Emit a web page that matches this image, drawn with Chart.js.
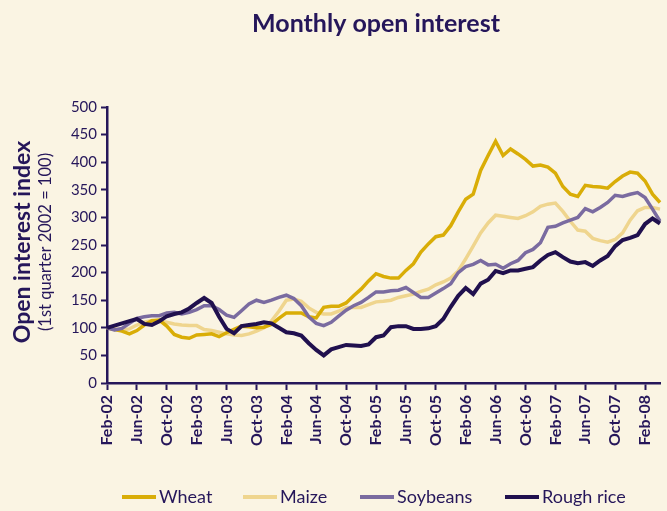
<!DOCTYPE html>
<html>
<head>
<meta charset="utf-8">
<script src="https://cdn.jsdelivr.net/npm/chart.js@4"></script>
<style>
	html, body { margin: 0; padding: 0; background: #FAF4E3; }
	canvas { display: block; }
</style>
</head>
<body>
<canvas id="oiChart" width="667" height="511"></canvas>
<script>
// month categories, Feb-02 .. Apr-08
var months = [
	'Feb-02','Mar-02','Apr-02','May-02','Jun-02','Jul-02','Aug-02','Sep-02','Oct-02','Nov-02','Dec-02',
	'Jan-03','Feb-03','Mar-03','Apr-03','May-03','Jun-03','Jul-03','Aug-03','Sep-03','Oct-03','Nov-03','Dec-03',
	'Jan-04','Feb-04','Mar-04','Apr-04','May-04','Jun-04','Jul-04','Aug-04','Sep-04','Oct-04','Nov-04','Dec-04',
	'Jan-05','Feb-05','Mar-05','Apr-05','May-05','Jun-05','Jul-05','Aug-05','Sep-05','Oct-05','Nov-05','Dec-05',
	'Jan-06','Feb-06','Mar-06','Apr-06','May-06','Jun-06','Jul-06','Aug-06','Sep-06','Oct-06','Nov-06','Dec-06',
	'Jan-07','Feb-07','Mar-07','Apr-07','May-07','Jun-07','Jul-07','Aug-07','Sep-07','Oct-07','Nov-07','Dec-07',
	'Jan-08','Feb-08','Mar-08','Apr-08'
];

// index values (1st quarter 2002 = 100)
var wheat = [
	100, 97, 94, 89, 95, 105, 113, 114, 103, 88, 83,
	81, 87, 88, 89, 84, 91, 97, 103, 102, 100, 101, 106,
	117, 127, 127, 127, 120, 118, 137, 139, 139, 145, 158, 170,
	185, 198, 193, 190, 190, 204, 216, 237, 252, 265, 268, 285,
	310, 333, 342, 385, 412, 438, 412, 424, 415, 405, 393, 395,
	391, 380, 356, 342, 338, 358, 356, 355, 353, 365, 375, 382,
	380, 366, 342, 327
];
var maize = [
	100, 98, 96, 98, 105, 110, 113, 112, 110, 107, 105,
	104, 104, 97, 95, 92, 89, 87, 86, 89, 94, 100, 112,
	130, 150, 152, 148, 136, 128, 125, 125, 130, 137, 137, 137,
	142, 147, 148, 150, 155, 158, 161, 166, 170, 178, 183, 190,
	203, 225, 248, 272, 290, 304, 302, 300, 298, 303, 310, 320,
	324, 326, 311, 293, 277, 275, 262, 258, 255, 260, 272, 295,
	312, 318, 318, 315
];
var soybeans = [
	100, 96, 99, 108, 117, 120, 122, 122, 127, 128, 125,
	128, 133, 140, 140, 133, 123, 119, 131, 143, 150, 146, 150,
	155, 159, 153, 140, 120, 108, 104, 110, 121, 132, 140, 146,
	155, 165, 165, 167, 168, 173, 164, 155, 155, 163, 171, 180,
	200, 211, 215, 222, 214, 215, 208, 216, 222, 236, 242, 254,
	282, 284, 290, 295, 300, 316, 310, 318, 327, 340, 338, 342,
	345, 336, 315, 293
];
var roughRice = [
	100, 104, 108, 112, 116, 107, 105, 112, 121, 125, 128,
	135, 145, 154, 145, 120, 98, 90, 103, 105, 107, 110, 108,
	100, 92, 90, 86, 72, 60, 50, 61, 65, 69, 68, 67,
	70, 83, 86, 101, 103, 103, 98, 98, 99, 103, 116, 138,
	158, 172, 161, 180, 187, 203, 199, 204, 204, 207, 210, 222,
	232, 237, 228, 220, 217, 219, 212, 222, 230, 248, 259, 263,
	268, 288, 298, 289
];

var NAVY = '#25165A';
var FONT = 'Lato, "Open Sans", sans-serif';

// title, the two-part y axis title and the legend row, drawn outside the plot
var textPlugin = {
	id: 'outerText',
	afterDraw: function(chart) {
		var ctx = chart.ctx;
		ctx.save();
		ctx.fillStyle = NAVY;
		ctx.textAlign = 'center';
		ctx.textBaseline = 'middle';
		ctx.font = 'bold 25px ' + FONT;
		ctx.fillText('Monthly open interest', 376, 24);

		// legend: short line sample then the series name
		var legendX = [122, 243, 360, 505];
		ctx.textAlign = 'left';
		ctx.font = '18px ' + FONT;
		chart.data.datasets.forEach(function(ds, i) {
			var x = legendX[i];
			ctx.fillStyle = ds.borderColor;
			ctx.fillRect(x, 495, 34, 4);
			ctx.fillStyle = NAVY;
			ctx.fillText(ds.label, x + 37, 497);
		});

		ctx.translate(23, 242);
		ctx.rotate(-Math.PI / 2);
		ctx.textAlign = 'center';
		ctx.font = 'bold 23px ' + FONT;
		ctx.fillText('Open interest index', 0, 0);
		ctx.font = '16.5px ' + FONT;
		ctx.fillText('(1st quarter 2002 = 100)', 0, 23);
		ctx.restore();
	}
};

var ctx = document.getElementById('oiChart').getContext('2d');
new Chart(ctx, {
	type: 'line',
	data: {
		labels: months,
		datasets: [
			{ label: 'Wheat', data: wheat, borderColor: '#D9AD07', borderWidth: 3.5, order: 2 },
			{ label: 'Maize', data: maize, borderColor: '#EFD58E', borderWidth: 3.5, order: 3 },
			{ label: 'Soybeans', data: soybeans, borderColor: '#7A6BA0', borderWidth: 3.5, order: 1 },
			{ label: 'Rough rice', data: roughRice, borderColor: '#20104E', borderWidth: 4, order: 0 }
		]
	},
	options: {
		responsive: false,
		animation: false,
		layout: { padding: { top: 107, right: 7, left: 0, bottom: 0 } },
		elements: {
			point: { radius: 0 },
			line: { tension: 0 }
		},
		scales: {
			x: {
				type: 'category',
				offset: false,
				border: { color: NAVY, width: 2.5 },
				grid: {
					drawOnChartArea: false,
					tickLength: 7,
					tickWidth: 2,
					tickColor: function(c) { return c.index % 4 === 0 ? NAVY : 'rgba(0,0,0,0)'; }
				},
				ticks: {
					autoSkip: false,
					minRotation: 90,
					maxRotation: 90,
					padding: 5,
					color: NAVY,
					font: { family: FONT, size: 16, weight: 'bold' },
					callback: function(value, index) {
						return index % 4 === 0 ? this.getLabelForValue(value) : '';
					}
				},
				afterFit: function(scale) {
					scale.height = 128;
					scale.paddingLeft = 0;
					scale.paddingRight = 0;
				}
			},
			y: {
				min: 0,
				max: 500,
				border: { color: NAVY, width: 2.5 },
				grid: {
					drawOnChartArea: false,
					tickLength: 6,
					tickWidth: 2,
					tickColor: NAVY
				},
				ticks: {
					stepSize: 50,
					padding: 4,
					color: NAVY,
					font: { family: FONT, size: 15 }
				},
				afterFit: function(scale) { scale.width = 107; }
			}
		},
		plugins: {
			title: { display: false },
			tooltip: { enabled: false },
			legend: { display: false }
		}
	},
	plugins: [textPlugin]
});
</script>
</body>
</html>
